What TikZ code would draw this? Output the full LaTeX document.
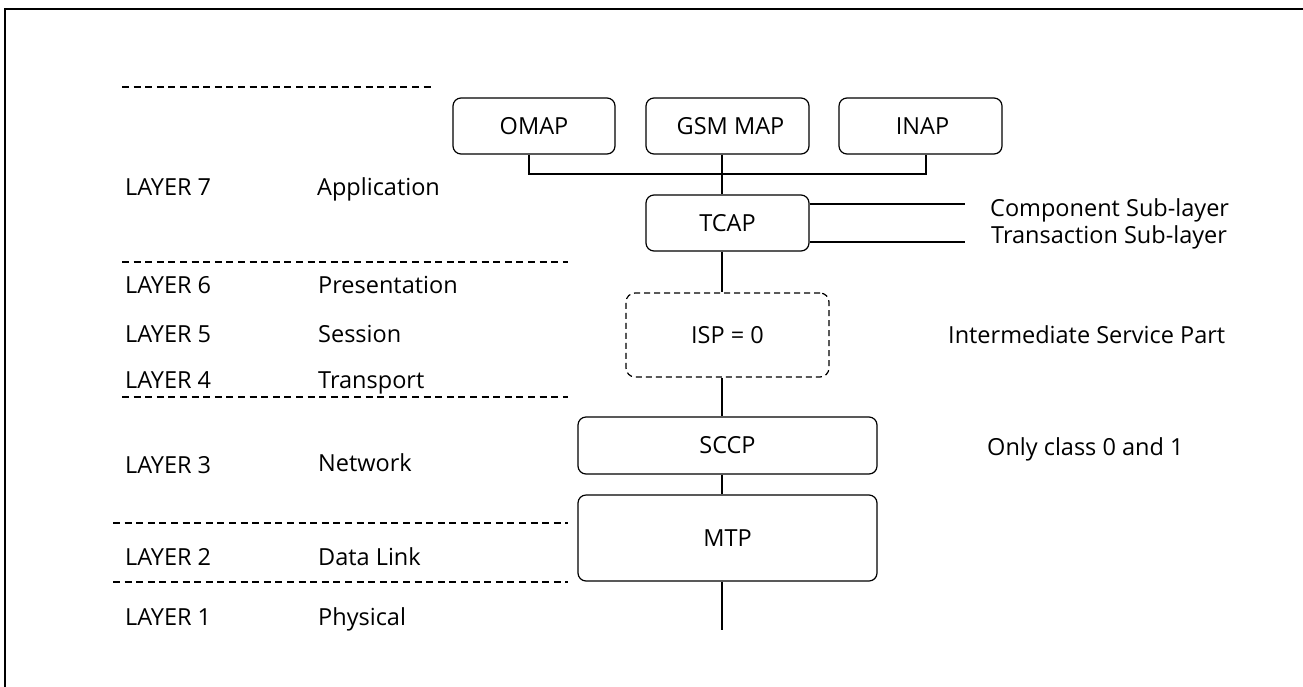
\documentclass[tikz,border=0pt]{standalone}
\usepackage{fontspec}
\setmainfont{Open Sans}
\begin{document}
\begin{tikzpicture}[x=1pt,y=-1pt,
  every node/.style={font=\fontsize{23.5}{27}\selectfont, inner sep=0pt},
  frame/.style={line width=2pt},
  link/.style={line width=1.2pt},
  divider/.style={line width=1.3pt, dash pattern=on 7pt off 4.6pt},
  layerbox/.style={draw, line width=1.2pt, rounded corners=8pt},
  ispbox/.style={draw, line width=1.2pt, rounded corners=9pt, dash pattern=on 6pt off 4pt},
  lbl/.style={anchor=base west}]
\useasboundingbox (0,0) rectangle (1303,686);

% outer frame (top and left edges)
\draw[frame] (5,690) -- (5,9) -- (1310,9);

% OSI layer dividers
\draw[divider] (122,87) -- (432,87);
\draw[divider] (122,262) -- (568,262);
\draw[divider] (122,397) -- (568,397);
\draw[divider] (113,523) -- (568,523);
\draw[divider] (113,582) -- (568,582);

% OSI layer names
\node[lbl] (l7) at (125,195) {LAYER 7};
\node[lbl] (l6) at (125,293) {LAYER 6};
\node[lbl] (l5) at (125,342) {LAYER 5};
\node[lbl] (l4) at (125,388) {LAYER 4};
\node[lbl] (l3) at (125,473) {LAYER 3};
\node[lbl] (l2) at (125,565) {LAYER 2};
\node[lbl] (l1) at (125,625) {LAYER 1};

\node[lbl] (n7) at (317,195) {Application};
\node[lbl] (n6) at (318,293) {Presentation};
\node[lbl] (n5) at (318,342) {Session};
\node[lbl] (n4) at (318,388) {Transport};
\node[lbl] (n3) at (318,471) {Network};
\node[lbl] (n2) at (318,565) {Data Link};
\node[lbl] (n1) at (318,625) {Physical};

% SS7 protocol stack
\node[layerbox, minimum width=162pt, minimum height=56pt] (omap) at (534,126) {OMAP};
\node[layerbox, minimum width=163pt, minimum height=56pt] (gsm)  at (727.5,126) {\hspace*{6pt}GSM MAP};
\node[layerbox, minimum width=163pt, minimum height=56pt] (inap) at (920.5,126) {\hspace*{4pt}INAP};
\node[layerbox, minimum width=163pt, minimum height=56pt] (tcap) at (727.5,223) {TCAP};
\node[ispbox,   minimum width=203pt, minimum height=84pt] (isp)  at (727.5,335) {ISP = 0};
\node[layerbox, minimum width=299pt, minimum height=57pt] (sccp) at (727.5,445.5) {SCCP};
\node[layerbox, minimum width=299pt, minimum height=86pt] (mtp)  at (727.5,538) {MTP};

% connectors
\coordinate (spine) at (722,0);
\coordinate (busL) at (529,174);
\coordinate (busR) at (926,174);
\coordinate (base) at (722,630);
\draw[link] (busL |- omap.south) -- (busL) -- (busR) -- (busR |- inap.south);
\draw[link] (spine |- gsm.south) -- (spine |- tcap.north);
\draw[link] (spine |- tcap.south) -- (spine |- isp.north);
\draw[link] (spine |- isp.south) -- (spine |- sccp.north);
\draw[link] (spine |- sccp.south) -- (spine |- mtp.north);
\draw[link] (spine |- mtp.south) -- (base);

% TCAP sub-layers
\coordinate (compEnd) at (965,204);
\coordinate (tranEnd) at (965,242);
\draw[link] (compEnd -| tcap.east) -- (compEnd);
\draw[link] (tranEnd -| tcap.east) -- (tranEnd);
\node[lbl] (comp) at (990,216) {Component Sub-layer};
\node[lbl] (tran) at (991,243) {Transaction Sub-layer};

% annotations
\node[lbl] (ispnote) at (948,343) {Intermediate Service Part};
\node[lbl] (sccpnote) at (987,455) {Only class 0 and 1};
\end{tikzpicture}
\end{document}
